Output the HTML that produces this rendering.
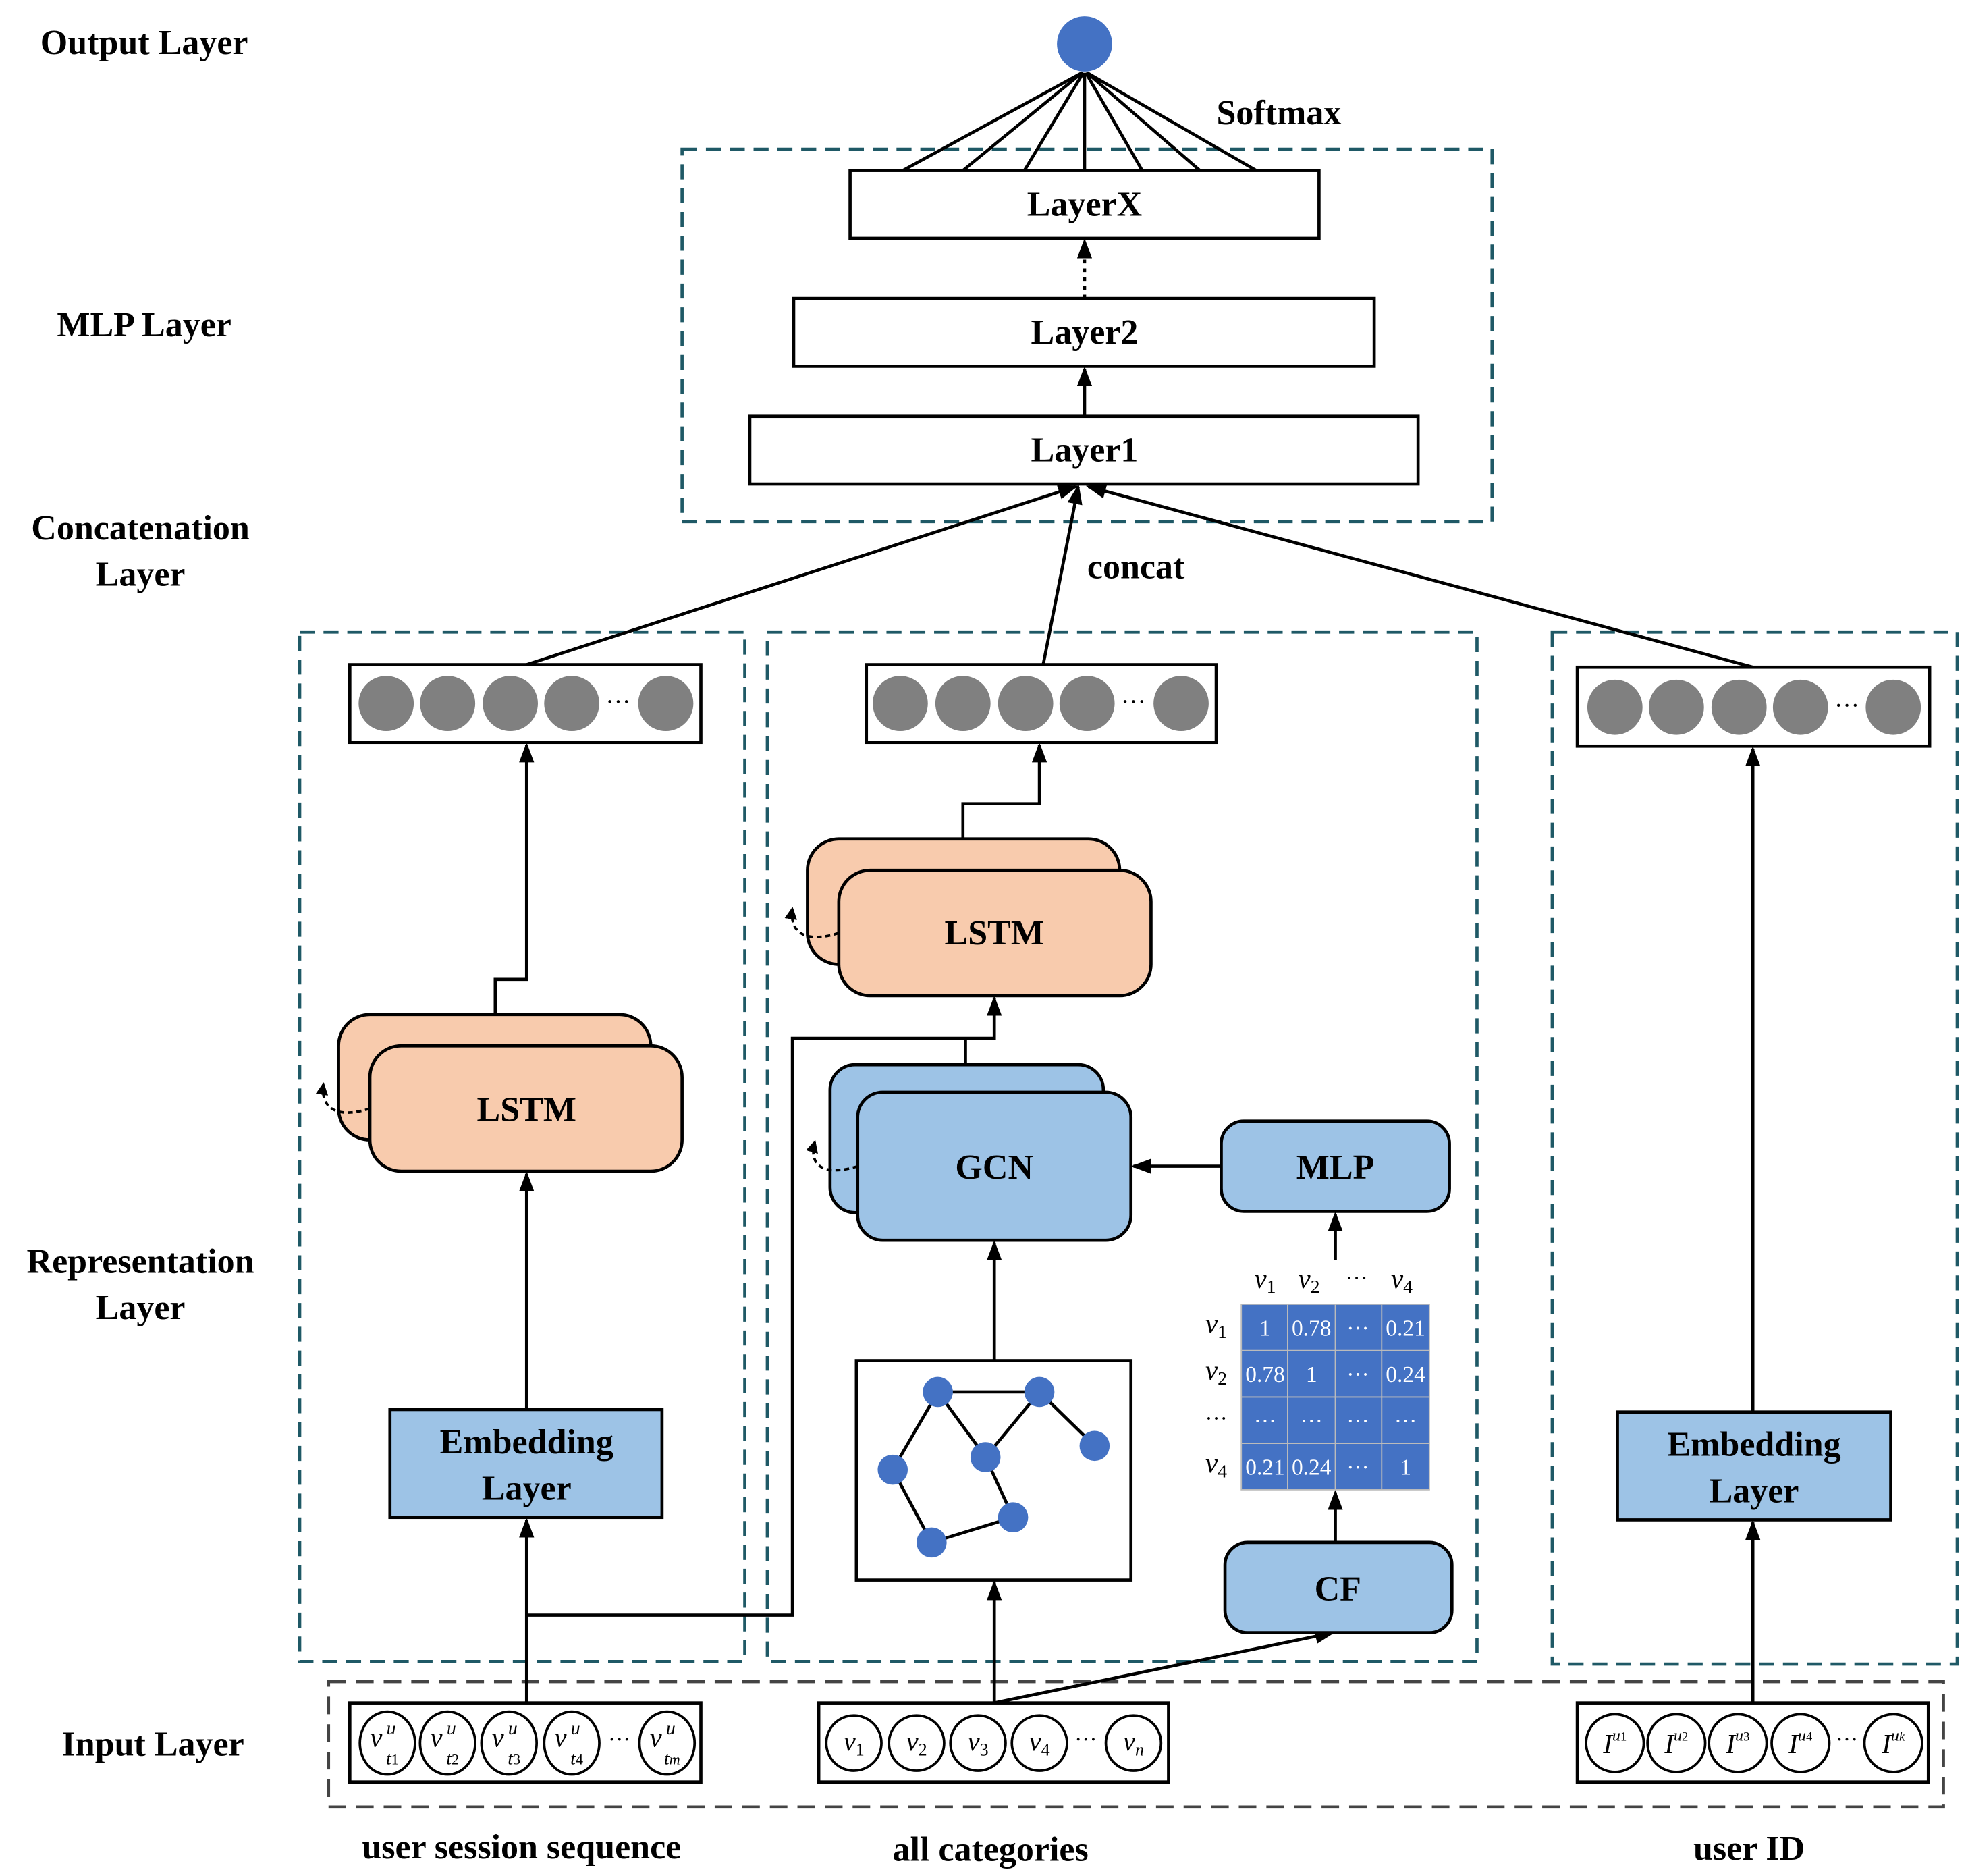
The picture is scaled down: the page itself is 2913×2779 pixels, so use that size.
<!DOCTYPE html>
<html><head><meta charset="utf-8"><style>html,body{margin:0;padding:0;background:#fff}svg{display:block}svg text{font-family:"Liberation Serif","DejaVu Serif",serif}</style></head><body>
<svg width="2913" height="2779" viewBox="0 0 1568 1496" preserveAspectRatio="none" xmlns="http://www.w3.org/2000/svg" style="font-family:'Liberation Serif',serif">
<defs><marker id="a" markerWidth="10" markerHeight="10" refX="9" refY="5" orient="auto" markerUnits="userSpaceOnUse"><path d="M0,0 L10,5 L0,10 z" fill="#000"/></marker>
<marker id="b" markerWidth="16" markerHeight="12" refX="14" refY="6" orient="auto" markerUnits="userSpaceOnUse"><path d="M0,0 L16,6 L0,12 z" fill="#000"/></marker></defs>
<g font-weight="bold" font-size="28" text-anchor="middle">
<text x="115" y="43">Output Layer</text><text x="115" y="268">MLP Layer</text>
<text x="112" y="430">Concatenation</text><text x="112" y="467">Layer</text>
<text x="112" y="1015">Representation</text><text x="112" y="1052">Layer</text>
<text x="122" y="1400">Input Layer</text>
<text x="1020" y="99">Softmax</text><text x="906" y="461">concat</text>
<text x="416" y="1482">user session sequence</text><text x="790" y="1484">all categories</text><text x="1395" y="1483">user ID</text>
</g>
<g fill="none" stroke="#1f5966" stroke-width="2.5" stroke-dasharray="12,7">
<rect x="544" y="119" width="646" height="297"/><rect x="239" y="504" width="355" height="821"/><rect x="612" y="504" width="566" height="821"/><rect x="1238" y="504" width="323" height="823"/></g>
<rect x="262" y="1341" width="1288" height="100" fill="none" stroke="#444" stroke-width="2.5" stroke-dasharray="14,8"/>
<circle cx="865" cy="35" r="22" fill="#4472c4"/>
<g stroke="#000" stroke-width="2.5" fill="none">
<line x1="720" y1="136" x2="863" y2="58"/><line x1="768" y1="136" x2="863" y2="58"/><line x1="817" y1="136" x2="864" y2="58"/><line x1="865" y1="136" x2="865" y2="58"/><line x1="911" y1="136" x2="866" y2="58"/><line x1="957" y1="136" x2="867" y2="58"/><line x1="1002" y1="136" x2="867" y2="58"/>
<rect x="678" y="136" width="374" height="54" fill="#fff"/><rect x="633" y="238" width="463" height="54" fill="#fff"/><rect x="598" y="332" width="533" height="54" fill="#fff"/>
<line x1="865" y1="332" x2="865" y2="294" marker-end="url(#b)"/>
<line x1="865" y1="238" x2="865" y2="192" stroke-dasharray="3,4" marker-end="url(#b)"/>
<line x1="420" y1="530" x2="858" y2="388" marker-end="url(#b)"/><line x1="832" y1="530" x2="860" y2="388" marker-end="url(#b)"/><line x1="1398" y1="532" x2="868" y2="388" marker-end="url(#b)"/>
<rect x="279" y="530" width="280" height="62" fill="#fff"/><rect x="691" y="530" width="279" height="62" fill="#fff"/><rect x="1258" y="532" width="281" height="63" fill="#fff"/>
<polyline points="395,809 395,781 420,781 420,594" marker-end="url(#b)"/>
<line x1="420" y1="1124" x2="420" y2="936" marker-end="url(#b)"/>
<line x1="420" y1="1358" x2="420" y2="1212" marker-end="url(#b)"/>
<polyline points="420,1288 632,1288 632,828 793,828 793,796" marker-end="url(#b)"/>
<polyline points="768,669 768,641 829,641 829,594" marker-end="url(#b)"/>
<line x1="770" y1="849" x2="770" y2="828"/>
<line x1="974" y1="930" x2="904" y2="930" marker-end="url(#b)"/>
<line x1="1065" y1="1005" x2="1065" y2="968" marker-end="url(#b)"/>
<line x1="1065" y1="1230" x2="1065" y2="1190" marker-end="url(#b)"/>
<line x1="793" y1="1085" x2="793" y2="991" marker-end="url(#b)"/>
<line x1="793" y1="1358" x2="793" y2="1262" marker-end="url(#b)"/>
<line x1="793" y1="1358" x2="1063" y2="1302" marker-end="url(#b)"/>
<line x1="1398" y1="1358" x2="1398" y2="1214" marker-end="url(#b)"/>
<line x1="1398" y1="1126" x2="1398" y2="597" marker-end="url(#b)"/>
<rect x="270" y="809" width="249" height="100" rx="25" fill="#f8cbad"/><rect x="295" y="834" width="249" height="100" rx="25" fill="#f8cbad"/>
<rect x="644" y="669" width="249" height="100" rx="25" fill="#f8cbad"/><rect x="669" y="694" width="249" height="100" rx="25" fill="#f8cbad"/>
<rect x="662" y="849" width="218" height="118" rx="20" fill="#9dc3e6"/><rect x="684" y="871" width="218" height="118" rx="20" fill="#9dc3e6"/>
<rect x="974" y="894" width="182" height="72" rx="18" fill="#9dc3e6"/><rect x="977" y="1230" width="181" height="72" rx="18" fill="#9dc3e6"/>
<rect x="311" y="1124" width="217" height="86" fill="#9dc3e6"/><rect x="1290" y="1126" width="218" height="86" fill="#9dc3e6"/>
<rect x="683" y="1085" width="219" height="175" fill="#fff"/>
<rect x="279" y="1358" width="280" height="63" fill="#fff"/><rect x="653" y="1358" width="279" height="63" fill="#fff"/><rect x="1258" y="1358" width="280" height="63" fill="#fff"/>
<g stroke-width="2" stroke-dasharray="4,3"><path d="M295,884 C270,892 255,885 258,864" marker-end="url(#a)"/><path d="M669,744 C644,752 629,745 632,724" marker-end="url(#a)"/><path d="M684,930 C659,938 644,931 650,910" marker-end="url(#a)"/></g>
<g stroke-width="2.5"><line x1="748" y1="1110" x2="829" y2="1110"/><line x1="748" y1="1110" x2="786" y2="1162"/><line x1="786" y1="1162" x2="829" y2="1110"/><line x1="829" y1="1110" x2="873" y2="1153"/><line x1="748" y1="1110" x2="712" y2="1172"/><line x1="712" y1="1172" x2="743" y2="1230"/><line x1="743" y1="1230" x2="808" y2="1210"/><line x1="808" y1="1210" x2="786" y2="1162"/></g>
</g>
<g fill="#4472c4"><circle cx="748" cy="1110" r="12"/><circle cx="829" cy="1110" r="12"/><circle cx="873" cy="1153" r="12"/><circle cx="786" cy="1162" r="12"/><circle cx="712" cy="1172" r="12"/><circle cx="743" cy="1230" r="12"/><circle cx="808" cy="1210" r="12"/></g>
<g fill="#808080"><circle cx="308" cy="561" r="22"/><circle cx="357" cy="561" r="22"/><circle cx="407" cy="561" r="22"/><circle cx="456" cy="561" r="22"/><circle cx="531" cy="561" r="22"/>
<circle cx="718" cy="561" r="22"/><circle cx="768" cy="561" r="22"/><circle cx="818" cy="561" r="22"/><circle cx="867" cy="561" r="22"/><circle cx="942" cy="561" r="22"/>
<circle cx="1288" cy="564" r="22"/><circle cx="1337" cy="564" r="22"/><circle cx="1387" cy="564" r="22"/><circle cx="1436" cy="564" r="22"/><circle cx="1510" cy="564" r="22"/></g>
<g font-size="20" text-anchor="middle"><text x="493" y="566">···</text><text x="904" y="566">···</text><text x="1473" y="569">···</text></g>
<g font-weight="bold" font-size="28" text-anchor="middle">
<text x="865" y="172">LayerX</text><text x="865" y="274">Layer2</text><text x="865" y="368">Layer1</text>
<text x="420" y="894">LSTM</text><text x="793" y="753">LSTM</text><text x="793" y="940">GCN</text><text x="1065" y="940">MLP</text><text x="1067" y="1276">CF</text>
<text x="420" y="1159">Embedding</text><text x="420" y="1196">Layer</text><text x="1399" y="1161">Embedding</text><text x="1399" y="1198">Layer</text>
</g>
<g stroke="#bbb" stroke-width="1"><rect x="990" y="1040" width="150" height="148" fill="#4472c4"/><line x1="1027" y1="1040" x2="1027" y2="1188"/><line x1="1065" y1="1040" x2="1065" y2="1188"/><line x1="1102" y1="1040" x2="1102" y2="1188"/><line x1="990" y1="1077" x2="1140" y2="1077"/><line x1="990" y1="1114" x2="1140" y2="1114"/><line x1="990" y1="1151" x2="1140" y2="1151"/></g>
<g fill="#fff" font-size="18" text-anchor="middle">
<text x="1009" y="1065">1</text><text x="1046" y="1065">0.78</text><text x="1083" y="1065">···</text><text x="1121" y="1065">0.21</text>
<text x="1009" y="1102">0.78</text><text x="1046" y="1102">1</text><text x="1083" y="1102">···</text><text x="1121" y="1102">0.24</text>
<text x="1009" y="1139">···</text><text x="1046" y="1139">···</text><text x="1083" y="1139">···</text><text x="1121" y="1139">···</text>
<text x="1009" y="1176">0.21</text><text x="1046" y="1176">0.24</text><text x="1083" y="1176">···</text><text x="1121" y="1176">1</text></g>
<g font-size="22" font-style="italic" text-anchor="middle">
<text x="1009" y="1027">v<tspan font-size="15" font-style="normal" dy="4">1</tspan></text><text x="1044" y="1027">v<tspan font-size="15" font-style="normal" dy="4">2</tspan></text><text x="1082" y="1025" font-style="normal" font-size="18">···</text><text x="1118" y="1027">v<tspan font-size="15" font-style="normal" dy="4">4</tspan></text>
<text x="970" y="1063">v<tspan font-size="15" font-style="normal" dy="4">1</tspan></text><text x="970" y="1100">v<tspan font-size="15" font-style="normal" dy="4">2</tspan></text><text x="970" y="1137" font-style="normal" font-size="18">···</text><text x="970" y="1174">v<tspan font-size="15" font-style="normal" dy="4">4</tspan></text></g>
<g fill="#fff" stroke="#000" stroke-width="2"><ellipse cx="309" cy="1390" rx="22" ry="25"/><ellipse cx="357" cy="1390" rx="22" ry="25"/><ellipse cx="406" cy="1390" rx="22" ry="25"/><ellipse cx="456" cy="1390" rx="22" ry="25"/><ellipse cx="532" cy="1390" rx="22" ry="25"/>
<ellipse cx="681" cy="1390" rx="22" ry="22"/><ellipse cx="731" cy="1390" rx="22" ry="22"/><ellipse cx="780" cy="1390" rx="22" ry="22"/><ellipse cx="829" cy="1390" rx="22" ry="22"/><ellipse cx="904" cy="1390" rx="22" ry="22"/>
<ellipse cx="1288" cy="1390" rx="23" ry="23"/><ellipse cx="1337" cy="1390" rx="23" ry="23"/><ellipse cx="1386" cy="1390" rx="23" ry="23"/><ellipse cx="1436" cy="1390" rx="23" ry="23"/><ellipse cx="1510" cy="1390" rx="23" ry="23"/></g>
<g font-size="22" font-style="italic" text-anchor="middle">
<text x="300" y="1393">v</text><text x="312" y="1383" font-size="15">u</text><text x="313" y="1407" font-size="15">t<tspan font-style="normal" font-size="12">1</tspan></text>
<text x="348" y="1393">v</text><text x="360" y="1383" font-size="15">u</text><text x="361" y="1407" font-size="15">t<tspan font-style="normal" font-size="12">2</tspan></text>
<text x="397" y="1393">v</text><text x="409" y="1383" font-size="15">u</text><text x="410" y="1407" font-size="15">t<tspan font-style="normal" font-size="12">3</tspan></text>
<text x="447" y="1393">v</text><text x="459" y="1383" font-size="15">u</text><text x="460" y="1407" font-size="15">t<tspan font-style="normal" font-size="12">4</tspan></text>
<text x="523" y="1393">v</text><text x="535" y="1383" font-size="15">u</text><text x="536" y="1407" font-size="15">t<tspan font-size="12">m</tspan></text>
<text x="681" y="1396">v<tspan font-size="14" font-style="normal" dy="4">1</tspan></text><text x="731" y="1396">v<tspan font-size="14" font-style="normal" dy="4">2</tspan></text><text x="780" y="1396">v<tspan font-size="14" font-style="normal" dy="4">3</tspan></text><text x="829" y="1396">v<tspan font-size="14" font-style="normal" dy="4">4</tspan></text><text x="904" y="1396">v<tspan font-size="14" dy="4">n</tspan></text>
<text x="1288" y="1398">I<tspan font-size="13" dy="-10">u<tspan font-style="normal" font-size="10">1</tspan></tspan></text>
<text x="1337" y="1398">I<tspan font-size="13" dy="-10">u<tspan font-style="normal" font-size="10">2</tspan></tspan></text>
<text x="1386" y="1398">I<tspan font-size="13" dy="-10">u<tspan font-style="normal" font-size="10">3</tspan></tspan></text>
<text x="1436" y="1398">I<tspan font-size="13" dy="-10">u<tspan font-style="normal" font-size="10">4</tspan></tspan></text>
<text x="1510" y="1398">I<tspan font-size="13" dy="-10">u<tspan font-size="10">k</tspan></tspan></text>
</g>
<g font-size="18" text-anchor="middle"><text x="494" y="1393">···</text><text x="866" y="1393">···</text><text x="1473" y="1393">···</text></g>
</svg>
</body></html>
